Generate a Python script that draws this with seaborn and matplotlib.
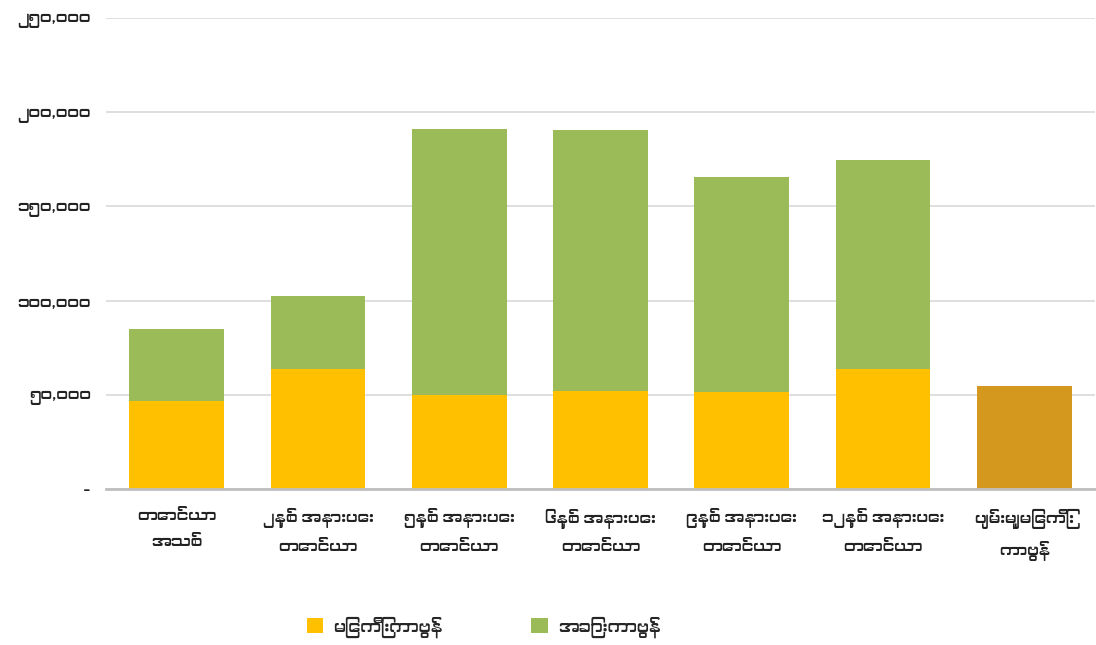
import matplotlib
matplotlib.use("Agg")
import matplotlib.pyplot as plt
from matplotlib import font_manager
from matplotlib.patches import Patch
import numpy as np
import pandas as pd
import seaborn as sns

# Categories (two-line labels) and carbon stocks per land-use type
categories = [
    "တောင်ယာ\nအသစ်",
    "၂နှစ် အနားပေး\nတောင်ယာ",
    "၅နှစ် အနားပေး\nတောင်ယာ",
    "၆နှစ် အနားပေး\nတောင်ယာ",
    "၉နှစ် အနားပေး\nတောင်ယာ",
    "၁၂နှစ် အနားပေး\nတောင်ယာ",
    "ပျမ်းမျှမြေကြီး\nကာဗွန်",
]
soil_carbon = [46900, 63500, 50000, 52000, 51500, 63700, 54800]
other_carbon = [38100, 38900, 141200, 138600, 113900, 110800, 0]

series_names = ["မြေကြီးကာဗွန်", "အခြားကာဗွန်"]
y_ticks = [0, 50000, 100000, 150000, 200000, 250000]
y_tick_labels = ["-", "၅၀,၀၀၀", "၁၀၀,၀၀၀", "၁၅၀,၀၀၀", "၂၀၀,၀၀၀", "၂၅၀,၀၀၀"]

YELLOW = "#FFC000"
GREEN = "#9BBB59"
GOLD = "#D4981F"

sns.set_theme(style="white")

# Prefer any installed font that covers Myanmar script, then fall back
myanmar_fonts = []
for f in font_manager.fontManager.ttflist:
    n = f.name.lower()
    if ("myanmar" in n or "padauk" in n or "pyidaungsu" in n or "zawgyi" in n) and f.name not in myanmar_fonts:
        myanmar_fonts.append(f.name)
plt.rcParams["font.family"] = myanmar_fonts + ["Noto Sans", "DejaVu Sans"]

df = pd.DataFrame({
    "category": categories,
    "soil": soil_carbon,
    "other": other_carbon,
})
df["total"] = df["soil"] + df["other"]

fig = plt.figure(figsize=(10.96, 6.45), dpi=100)
ax = fig.add_axes([106 / 1096, 1 - 489 / 645, (1095 - 106) / 1096, (489 - 18) / 645])

bar_width = 0.67
sns.barplot(data=df, x="category", y="total", color=GREEN, width=bar_width,
            saturation=1, linewidth=0, ax=ax, order=categories)
soil_palette = [YELLOW] * (len(categories) - 1) + [GOLD]
sns.barplot(data=df, x="category", y="soil", hue="category", palette=soil_palette,
            width=bar_width, saturation=1, linewidth=0, legend=False, ax=ax,
            order=categories, hue_order=categories)

ax.set_ylim(0, 250000)
ax.set_xlim(-0.5, len(categories) - 0.5)
ax.set_yticks(y_ticks)
ax.set_yticklabels(y_tick_labels, fontsize=11.5, color="#222222", fontweight="light")
ax.set_xticks(range(len(categories)))
ax.set_xticklabels(categories, fontsize=11.5, color="#222222", linespacing=1.9,
                   fontweight="light")
ax.tick_params(axis="both", length=0)
ax.tick_params(axis="y", pad=11)
ax.tick_params(axis="x", pad=14)
ax.set_xlabel("")
ax.set_ylabel("")

ax.yaxis.grid(True, color="#D9D9D9", linewidth=1.2)
ax.set_axisbelow(True)
for side in ["left", "right", "top"]:
    ax.spines[side].set_visible(False)
ax.spines["bottom"].set_color("#BFBFBF")
ax.spines["bottom"].set_linewidth(2)

handles = [Patch(facecolor=YELLOW, edgecolor="none"),
           Patch(facecolor=GREEN, edgecolor="none")]
fig.legend(handles, series_names, loc="center", bbox_to_anchor=(0.4415, 0.028),
           ncol=2, frameon=False,
           prop={"weight": "light", "size": 12},
           handlelength=1.0, handleheight=1.0,
           columnspacing=5.3, handletextpad=0.6)

fig.savefig("out.png", dpi=100)
